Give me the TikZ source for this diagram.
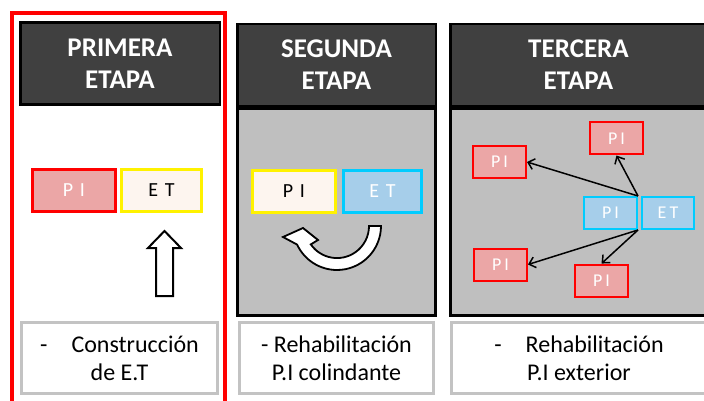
\documentclass[tikz,border=0pt]{standalone}
\usepackage{fontspec}
\setmainfont{Carlito}
\usepackage{xcolor}
\usetikzlibrary{arrows.meta,shapes,backgrounds,fit}

\definecolor{headgray}{HTML}{404040}
\definecolor{bodygray}{HTML}{BFBFBF}
\definecolor{capgray}{HTML}{C3C3C3}
\definecolor{pinkfill}{HTML}{EBA6A6}
\definecolor{creamfill}{HTML}{FDF5EF}
\definecolor{bluefill}{HTML}{A6CEEA}
\definecolor{cyanline}{HTML}{00CCFF}

\begin{document}
\begin{tikzpicture}[x=1pt,y=-1pt]
		\tikzstyle{stage_head}=[draw=black, line width=2.5pt, fill=headgray, text=white, align=center, inner sep=0pt, minimum height=82pt, font=\fontsize{27}{32}\selectfont\bfseries]
		\tikzstyle{stage_body}=[draw=black, line width=3pt, fill=bodygray, inner sep=0pt, minimum height=207pt]
		\tikzstyle{stage_text}=[draw=capgray, line width=3pt, fill=white, align=center, inner sep=0pt, minimum height=71pt, font=\fontsize{24}{28}\selectfont]
		\tikzstyle{big_box}=[line width=3pt, minimum height=42pt, inner sep=0pt, font=\fontsize{20}{22}\selectfont]
		\tikzstyle{small_box}=[line width=2pt, minimum width=53pt, minimum height=32pt, inner sep=0pt, text=white, font=\fontsize{18}{20}\selectfont]
		\tikzstyle{pi_red}=[draw=red, fill=pinkfill, text=white]
		\tikzstyle{et_yellow}=[draw=yellow, fill=creamfill, text=black]
		\tikzstyle{et_cyan}=[draw=cyanline, fill=bluefill, text=white]
		\tikzstyle{spoke}=[line width=1.5pt, -{Straight Barb[length=6pt,width=11pt]}]
		\tikzstyle{block_arrow}=[draw=black, line width=2pt, fill=white, line join=miter]

		\useasboundingbox (0,0) rectangle (704,401);

		% primera etapa
		\begin{scope}
			\node [stage_head, minimum width=199.5pt] (head1) at (120,63.5) {PRIMERA\\ETAPA};
			\node [big_box, pi_red, minimum width=83pt] (pi1) at (74,190.5) {P\,\,I};
			\node [big_box, et_yellow, minimum width=80pt] (et1) at (161.5,190.5) {E\,\,T};
			\draw [block_arrow] (164.5,231) -- (181,248) -- (173,248) -- (173,296) -- (156,296) -- (156,248) -- (148,248) -- cycle;
			\node [stage_text, minimum width=196pt] (text1) at (119.5,358) {-\quad Construcción\\de E.T};
			\draw [red, line width=4pt] (12,13) rectangle (225,404);
		\end{scope}

		% segunda etapa
		\begin{scope}
			\node [stage_body, minimum width=198pt] (body2) at (336.5,212) {};
			\node [stage_head, minimum width=198.5pt] (head2) at (336.5,65) {SEGUNDA\\ETAPA};
			\node [big_box, et_yellow, minimum width=83pt] (pi2) at (294,191.5) {P\,\,I};
			\node [big_box, et_cyan, minimum width=78pt] (et2) at (382.5,191.5) {E\,\,T};
			\draw [block_arrow, line width=1.8pt] (381,226) arc [start angle=0, end angle=155, radius=44]
				-- (283,237) -- (303,228) -- (318,240) -- (310.8,244.4)
				arc [start angle=145, end angle=0, radius=32] -- cycle;
			\node [stage_text, minimum width=194pt] (text2) at (336.5,358) {- Rehabilitación\\P.I colindante};
		\end{scope}

		% tercera etapa
		\begin{scope}
			\node [stage_body, minimum width=256pt] (body3) at (578.5,212) {};
			\node [stage_head, minimum width=256.5pt] (head3) at (578.5,65) {TERCERA\\ETAPA};
			\node [small_box, et_cyan] (pic) at (610.5,213) {P\,I};
			\node [small_box, et_cyan, minimum width=52pt] (etc) at (668,213) {E\,T};
			\node [small_box, pi_red] (pia) at (616.5,138.5) {P\,I};
			\node [small_box, pi_red] (pib) at (499.5,162) {P\,I};
			\node [small_box, pi_red] (pid) at (500.5,264.5) {P\,I};
			\node [small_box, pi_red] (pie) at (601.5,280.5) {P\,I};
			\draw [spoke] (pic.north east) -- (pib.east);
			\draw [spoke] (pic.north east) -- (pia.south);
			\draw [spoke] (pic.south east) -- (pid.east);
			\draw [spoke] (pic.south east) -- (pie.north);
			\node [stage_text, minimum width=255pt] (text3) at (579,358) {-\quad Rehabilitación\\P.I exterior};
		\end{scope}

\end{tikzpicture}
\end{document}
